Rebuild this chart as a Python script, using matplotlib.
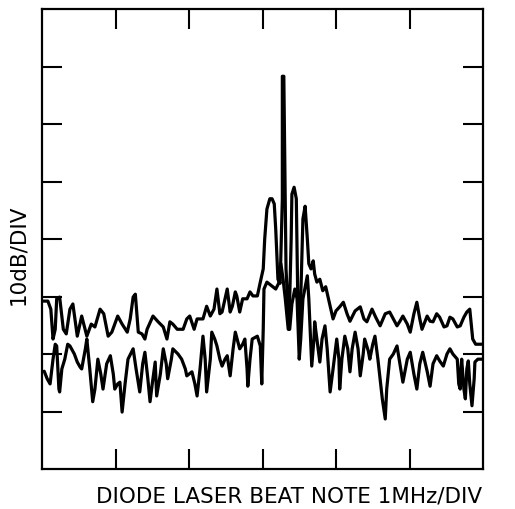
import matplotlib
matplotlib.use("Agg")
import matplotlib.pyplot as plt

# Frequency axis: 6 divisions of 1 MHz; level axis: 8 divisions of 10 dB (0 = bottom of screen)
trace_a_freq = [0.00, 0.08, 0.12, 0.15, 0.18, 0.20, 0.24, 0.29, 0.33, 0.38, 0.42, 0.48, 0.54, 0.61,
                0.67, 0.72, 0.79, 0.84, 0.90, 0.95, 1.03, 1.09, 1.16, 1.20, 1.24, 1.27, 1.31, 1.36,
                1.40, 1.43, 1.51, 1.58, 1.65, 1.70, 1.74, 1.78, 1.84, 1.92, 1.97, 2.01, 2.07, 2.11,
                2.19, 2.24, 2.29, 2.34, 2.38, 2.42, 2.45, 2.52, 2.56, 2.59, 2.63, 2.65, 2.69, 2.73,
                2.79, 2.83, 2.87, 2.93, 2.97, 3.01, 3.03, 3.06, 3.10, 3.13, 3.16, 3.18, 3.21, 3.24,
                3.27, 3.27, 3.29, 3.31, 3.32, 3.36, 3.39, 3.40, 3.43, 3.46, 3.48, 3.50, 3.52, 3.55,
                3.58, 3.61, 3.63, 3.66, 3.69, 3.71, 3.74, 3.78, 3.82, 3.86, 3.92, 3.96, 4.00, 4.05,
                4.10, 4.15, 4.19, 4.26, 4.33, 4.38, 4.42, 4.49, 4.54, 4.60, 4.67, 4.73, 4.78, 4.83,
                4.87, 4.91, 4.97, 5.01, 5.06, 5.10, 5.14, 5.17, 5.24, 5.28, 5.32, 5.37, 5.41, 5.47,
                5.51, 5.55, 5.59, 5.65, 5.69, 5.74, 5.78, 5.82, 5.86, 5.90, 5.93, 6.00]
trace_a_db = [29.2, 29.2, 27.8, 22.6, 24.3, 29.6, 29.9, 24.3, 23.5, 27.8, 28.7, 23.1, 26.6, 23.1,
              25.2, 24.7, 27.8, 27.0, 23.1, 23.8, 26.6, 25.2, 23.8, 26.1, 29.9, 30.4, 23.8, 23.5,
              22.6, 24.3, 26.6, 25.6, 24.7, 22.6, 25.6, 25.2, 24.3, 24.3, 26.1, 26.6, 24.3, 26.1,
              26.1, 28.3, 26.6, 27.8, 31.3, 27.0, 27.3, 31.3, 27.3, 28.3, 30.8, 30.1, 27.3, 29.6,
              29.6, 30.8, 30.1, 30.1, 32.5, 34.8, 40.0, 45.2, 47.0, 47.0, 46.1, 41.7, 33.0, 32.3,
              47.0, 68.3, 68.3, 47.0, 34.8, 24.3, 40.0, 47.8, 49.0, 47.0, 29.6, 22.1, 29.6, 43.5,
              45.7, 40.0, 35.7, 34.8, 36.2, 33.9, 32.5, 33.0, 31.0, 31.7, 28.3, 26.1, 27.5, 28.2,
              29.0, 27.0, 25.7, 27.5, 28.2, 26.1, 25.6, 27.8, 26.4, 24.9, 27.0, 27.3, 26.1, 24.9,
              25.7, 26.6, 25.2, 23.8, 27.0, 29.0, 26.1, 24.3, 26.6, 25.7, 25.6, 27.0, 26.4, 24.7,
              24.9, 26.4, 26.1, 24.7, 24.9, 26.4, 27.3, 27.8, 22.6, 21.7, 21.7, 21.7]

trace_b_freq = [0.03, 0.07, 0.11, 0.15, 0.18, 0.20, 0.23, 0.24, 0.27, 0.31, 0.35, 0.38, 0.44, 0.48,
                0.52, 0.54, 0.59, 0.61, 0.65, 0.69, 0.72, 0.76, 0.80, 0.83, 0.88, 0.93, 0.97, 0.99,
                1.03, 1.06, 1.09, 1.13, 1.17, 1.24, 1.28, 1.33, 1.37, 1.40, 1.44, 1.47, 1.50, 1.54,
                1.56, 1.61, 1.65, 1.69, 1.71, 1.76, 1.78, 1.85, 1.90, 1.95, 1.97, 2.04, 2.08, 2.11,
                2.15, 2.19, 2.22, 2.24, 2.29, 2.31, 2.35, 2.38, 2.42, 2.45, 2.49, 2.52, 2.56, 2.60,
                2.63, 2.69, 2.73, 2.76, 2.79, 2.80, 2.83, 2.86, 2.93, 2.97, 2.99, 3.01, 3.02, 3.06,
                3.13, 3.18, 3.22, 3.25, 3.28, 3.31, 3.35, 3.37, 3.40, 3.44, 3.47, 3.50, 3.52, 3.55,
                3.61, 3.63, 3.67, 3.70, 3.71, 3.74, 3.78, 3.81, 3.85, 3.88, 3.92, 3.96, 4.01, 4.04,
                4.05, 4.08, 4.12, 4.16, 4.19, 4.22, 4.26, 4.30, 4.33, 4.37, 4.39, 4.44, 4.46, 4.50,
                4.53, 4.57, 4.63, 4.67, 4.69, 4.73, 4.78, 4.83, 4.87, 4.91, 4.97, 5.01, 5.06, 5.10,
                5.14, 5.18, 5.24, 5.28, 5.32, 5.37, 5.41, 5.46, 5.51, 5.55, 5.59, 5.65, 5.67, 5.69,
                5.70, 5.71, 5.74, 5.76, 5.78, 5.80, 5.82, 5.85, 5.88, 5.89, 5.93, 6.00]
trace_b_db = [17.0, 15.7, 14.8, 19.1, 21.7, 21.4, 13.9, 13.4, 17.4, 19.1, 21.7, 21.4, 20.0, 18.6,
              17.7, 17.4, 20.9, 22.6, 17.4, 11.7, 13.9, 19.1, 16.5, 13.9, 18.3, 19.7, 16.5, 13.9,
              14.8, 15.1, 9.9, 14.8, 19.1, 20.9, 17.4, 13.4, 18.3, 20.3, 15.7, 11.7, 14.8, 18.6,
              12.7, 16.5, 20.9, 18.3, 15.7, 19.1, 20.9, 20.0, 19.1, 17.4, 16.2, 16.9, 14.8, 12.7,
              17.4, 23.1, 19.1, 13.4, 19.1, 23.8, 22.6, 21.4, 19.1, 17.9, 19.1, 19.7, 16.2, 20.9,
              23.8, 20.9, 21.7, 22.6, 17.4, 14.4, 19.1, 22.6, 23.1, 21.4, 14.8, 24.3, 31.3, 32.5,
              31.8, 31.3, 32.3, 35.7, 33.0, 29.6, 24.3, 24.3, 28.7, 31.3, 29.6, 19.1, 22.6, 29.6,
              33.6, 29.6, 17.9, 22.6, 25.6, 22.6, 18.6, 22.6, 24.9, 20.9, 13.4, 17.4, 22.6, 19.1,
              13.9, 19.1, 23.1, 20.9, 16.9, 20.9, 23.8, 20.9, 16.2, 20.0, 22.6, 20.5, 19.1, 21.7,
              23.1, 19.1, 12.2, 8.7, 13.9, 19.1, 20.0, 21.4, 18.3, 15.1, 19.1, 20.3, 16.5, 13.9,
              18.3, 20.3, 17.0, 14.4, 18.3, 19.7, 18.8, 17.9, 20.0, 20.9, 20.0, 19.1, 14.8, 13.9,
              17.4, 19.1, 13.9, 12.2, 17.4, 18.8, 14.8, 11.0, 15.7, 18.6, 19.1, 19.1]

x_divisions = [1, 2, 3, 4, 5]
y_divisions = [10, 20, 30, 40, 50, 60, 70]
x_label = "DIODE LASER BEAT NOTE 1MHz/DIV"
y_label = "10dB/DIV"

fig = plt.figure(figsize=(5.15, 5.10), dpi=100)
ax = fig.add_axes([42 / 515, 40 / 510, 441 / 515, 460 / 510])

line_kw = dict(color="black", lw=2.3, solid_joinstyle="round", solid_capstyle="round")
ax.plot(trace_b_freq, trace_b_db, **line_kw)
ax.plot(trace_a_freq, trace_a_db, **line_kw)

ax.set_xlim(0, 6)
ax.set_ylim(0, 80)
ax.set_xticks(x_divisions)
ax.set_yticks(y_divisions)
ax.tick_params(axis="both", direction="in", length=14.5, width=1.5, color="black",
               top=True, right=True, labelbottom=False, labelleft=False)
for s in ax.spines.values():
    s.set_linewidth(1.6)

fig.text(289 / 515, 1 - 497 / 510, x_label, ha="center", va="center",
         fontsize=15.5, family="DejaVu Sans", color="black")
fig.text(18 / 515, 1 - 255 / 510, y_label, ha="center", va="center", rotation=90,
         fontsize=15.5, family="DejaVu Sans", color="black")

fig.savefig("out.png", dpi=100, facecolor="white")
